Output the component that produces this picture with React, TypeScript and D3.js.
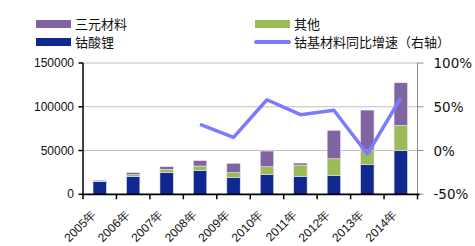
import React from "react";
import * as d3 from "d3";

const years = ["2005年","2006年","2007年","2008年","2009年","2010年","2011年","2012年","2013年","2014年"];
const licoo2 = [14600, 20100, 24700, 27000, 19000, 22400, 20100, 21700, 33800, 49800];
const others = [700, 2300, 3800, 5300, 5700, 9100, 13300, 18900, 16800, 29000];
const ternary = [1000, 2300, 3000, 6100, 10700, 17900, 2300, 32400, 45600, 48600];
const growthYears = ["2008年","2009年","2010年","2011年","2012年","2013年","2014年"];
const growth = [30, 15, 58, 41, 46, -4, 60];
const leftTicks = [0, 50000, 100000, 150000];
const rightTicks = [-50, 0, 50, 100];

const C_BLUE = "#10288f";
const C_GREEN = "#9bbb59";
const C_PURPLE = "#8064a2";
const C_LINE = "#7b7bff";

export default function App() {
  const W = 475, H = 246;
  const L = 83, R = 417.5, T = 63, B = 194.3;
  const xOuter = d3.scaleBand<string>().domain(years).range([L, R]);
  const y = d3.scaleLinear().domain([0, 150000]).range([B, T]);
  const y2 = d3.scaleLinear().domain([-50, 100]).range([B, T]);
  const stack = d3.stack<any>().keys(["a", "b", "c"])(
    years.map((yr, i) => ({ yr, a: licoo2[i], b: others[i], c: ternary[i] }))
  );
  const colors = [C_BLUE, C_GREEN, C_PURPLE];
  const line = d3.line<number>()
    .x((_, i) => (xOuter(growthYears[i]) as number) + xOuter.bandwidth() / 2)
    .y((d) => y2(d));
  const bw = 13.4;
  return (
    <svg width={W} height={H} style={{ position: "absolute", left: 0, top: 0 }}>
      <rect width={W} height={H} fill="#fff" />
      {/* legend */}
      <g fontFamily="'Noto Sans CJK SC', sans-serif" fontSize={13} fill="#111">
        <rect x={36} y={20} width={35} height={8} fill={C_PURPLE} />
        <text x={75} y={28.5}>三元材料</text>
        <rect x={36} y={38} width={35} height={8} fill={C_BLUE} />
        <text x={75} y={46.5}>钴酸锂</text>
        <rect x={255} y={20} width={35} height={8} fill={C_GREEN} />
        <text x={294} y={28.5}>其他</text>
        <line x1={256} x2={289} y1={42} y2={42} stroke={C_LINE} strokeWidth={4} strokeLinecap="round" />
        <text x={294} y={46.5}>钴基材料同比增速（右轴）</text>
      </g>
      {/* gridlines */}
      {leftTicks.filter((t) => t > 0).map((t) => (
        <line key={t} x1={L} x2={R} y1={y(t)} y2={y(t)} stroke="#bfbfbf" strokeWidth={1} />
      ))}
      {/* bars */}
      {stack.map((s, si) => (
        <g key={si}>
          {s.map((d: any, i: number) => {
            const cx = (xOuter(years[i]) as number) + xOuter.bandwidth() / 2;
            return (
              <rect key={i} x={cx - bw / 2} y={y(d[1])} width={bw} height={y(d[0]) - y(d[1])}
                fill={colors[si]} stroke="#e4e4ee" strokeWidth={0.6} />
            );
          })}
        </g>
      ))}
      {/* line */}
      <path d={line(growth) || ""} fill="none" stroke={C_LINE} strokeWidth={3.5} strokeLinejoin="round" />
      {/* left axis */}
      <line x1={L} x2={L} y1={T} y2={B} stroke="#000" strokeWidth={1.5} />
      {leftTicks.map((t) => (
        <g key={t}>
          <line x1={L - 4.5} x2={L} y1={y(t)} y2={y(t)} stroke="#000" strokeWidth={1.5} />
          <text x={L - 9} y={y(t) + 4} textAnchor="end" fontFamily="'Liberation Sans', Arial, sans-serif" fontSize={12} fill="#111">{t}</text>
        </g>
      ))}
      {/* right axis */}
      <line x1={R} x2={R} y1={T} y2={B} stroke="#8c8c8c" strokeWidth={1} />
      {rightTicks.map((t) => (
        <g key={t}>
          <line x1={R} x2={R + 6} y1={y2(t)} y2={y2(t)} stroke="#8c8c8c" strokeWidth={1} />
          <text x={R + 16} y={y2(t) + 5} fontFamily="'DejaVu Sans', Verdana, sans-serif" fontSize={13.5} fill="#111">{t}%</text>
        </g>
      ))}
      {/* bottom axis */}
      <line x1={L} x2={R + 2} y1={B} y2={B} stroke="#000" strokeWidth={1.8} />
      {years.map((yr, i) => (
        <line key={"t" + i} x1={xOuter(yr) as number} x2={xOuter(yr) as number} y1={B} y2={B + 5} stroke="#000" strokeWidth={1.5} />
      ))}
      <line x1={R} x2={R} y1={B} y2={B + 5} stroke="#000" strokeWidth={1.5} />
      {years.map((yr) => {
        const cx = (xOuter(yr) as number) + xOuter.bandwidth() / 2;
        return (
          <text key={yr} transform={`translate(${cx - 3},${B + 21}) rotate(-45)`} textAnchor="end"
            fontFamily="'Liberation Sans', Arial, sans-serif" fontSize={12} fill="#111">{yr}</text>
        );
      })}
    </svg>
  );
}
